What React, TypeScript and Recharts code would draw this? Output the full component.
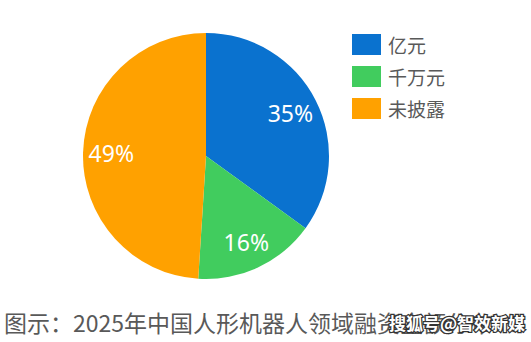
import React from "react";
import { PieChart, Pie, Cell } from "recharts";

const categories = ["亿元", "千万元", "未披露"];
const values = [35, 16, 49];
const colors = ["#0A72CF", "#41CC5E", "#FFA100"];
const caption = "图示：2025年中国人形机器人领域融资金额分布";
const watermark = "搜狐号@智效新媒";

const data = categories.map((name, i) => ({ name, value: values[i] }));
const RAD = Math.PI / 180;

const renderLabel = (props: any) => {
  const { cx, cy, midAngle, outerRadius, value } = props;
  const r = outerRadius * 0.77;
  const x = cx + r * Math.cos(-midAngle * RAD);
  const y = cy + r * Math.sin(-midAngle * RAD);
  return (
    <text
      x={x}
      y={y}
      fill="#ffffff"
      textAnchor="middle"
      dominantBaseline="central"
      fontSize={23}
      fontFamily="'Noto Sans', 'Noto Sans CJK SC', sans-serif"
    >
      {`${value}%`}
    </text>
  );
};

export default function App() {
  return (
    <div
      style={{
        position: "absolute",
        left: 0,
        top: 0,
        width: 531,
        height: 342,
        background: "#ffffff",
        overflow: "hidden",
        fontFamily: "'Noto Sans CJK SC', sans-serif",
      }}
    >
      <PieChart width={531} height={342} margin={{ top: 0, right: 0, bottom: 0, left: 0 }}>
        <Pie
          data={data}
          dataKey="value"
          nameKey="name"
          cx={206}
          cy={156}
          outerRadius={123}
          startAngle={90}
          endAngle={-270}
          stroke="none"
          label={renderLabel}
          labelLine={false}
          isAnimationActive={false}
        >
          {data.map((d, i) => (
            <Cell key={d.name} fill={colors[i]} />
          ))}
        </Pie>
      </PieChart>
      {categories.map((c, i) => (
        <div
          key={c}
          style={{
            position: "absolute",
            left: 352,
            top: 34 + i * 32,
            height: 21,
            display: "flex",
            alignItems: "center",
          }}
        >
          <div style={{ width: 29, height: 21, background: colors[i] }} />
          <span
            style={{
              marginLeft: 7,
              fontSize: 19,
              color: "#595959",
              lineHeight: "21px",
            }}
          >
            {c}
          </span>
        </div>
      ))}
      <div
        style={{
          position: "absolute",
          left: 4,
          top: 307,
          fontSize: 23,
          lineHeight: "30px",
          color: "#595959",
          whiteSpace: "nowrap",
        }}
      >
        {caption}
      </div>
      <div
        style={{
          position: "absolute",
          left: 389,
          top: 311,
          fontSize: 17,
          lineHeight: "24px",
          fontWeight: 700,
          color: "#ffffff",
          whiteSpace: "nowrap",
          WebkitTextStroke: "2.5px #333333",
          paintOrder: "stroke fill",
        }}
      >
        {watermark}
      </div>
    </div>
  );
}
